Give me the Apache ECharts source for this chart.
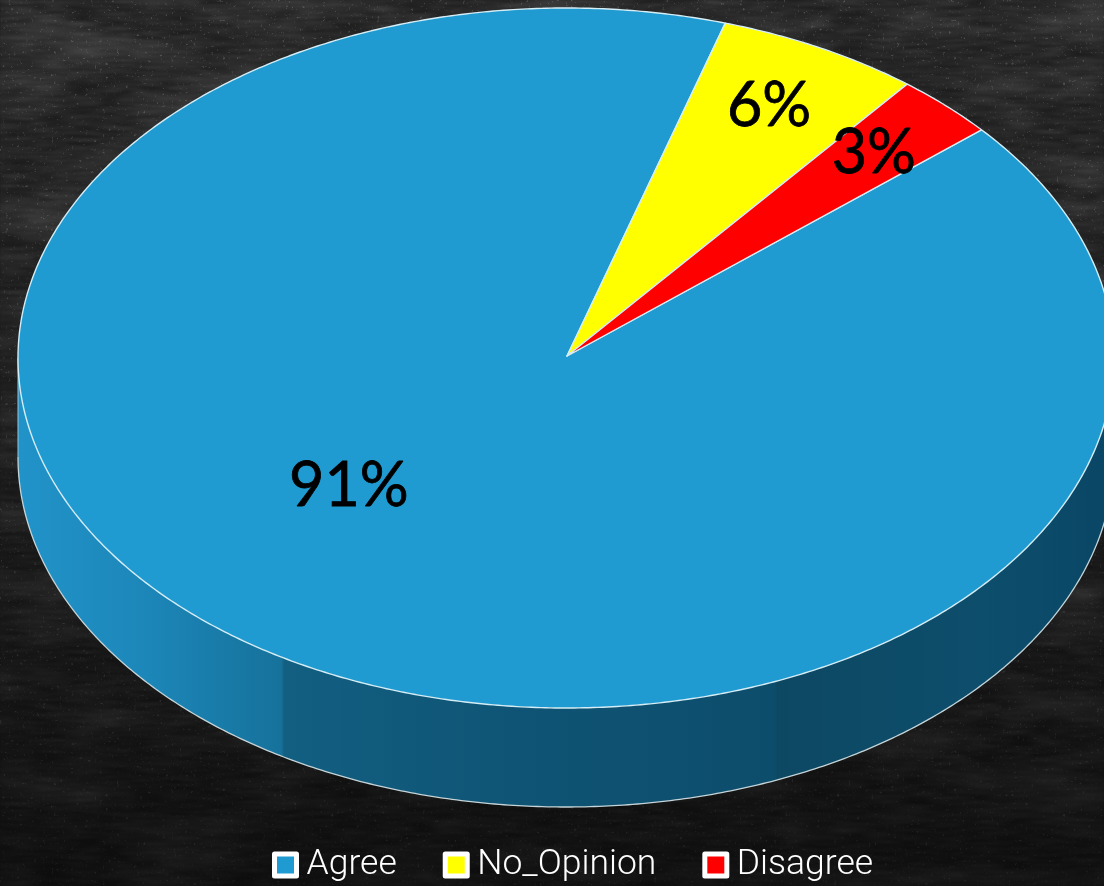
<!DOCTYPE html>
<html lang="en">
	<head>
		<meta charset="UTF-8">
		<title>Opinion pie</title>
		<style>
			html, body { margin: 0; padding: 0; width: 1104px; height: 886px; overflow: hidden; background: #161616; }
			#board { position: absolute; left: 0; top: 0; width: 1104px; height: 886px; }
			#main { position: absolute; left: 0; top: 0; width: 1104px; height: 886px; }
		</style>
	</head>

	<body>
		<!-- chalkboard background -->
		<svg id="board" xmlns="http://www.w3.org/2000/svg">
			<defs>
				<filter id="chalk" x="0" y="0" width="100%" height="100%">
					<feTurbulence type="fractalNoise" baseFrequency="0.03 0.5" numOctaves="2" seed="11"/>
					<feColorMatrix type="matrix" values="0 0 0 0 1  0 0 0 0 1  0 0 0 0 1  1.3 0 0 0 -0.48"/>
					<feGaussianBlur stdDeviation="0.8"/>
				</filter>
				<filter id="blotch" x="0" y="0" width="100%" height="100%">
					<feTurbulence type="fractalNoise" baseFrequency="0.008 0.03" numOctaves="3" seed="3"/>
					<feColorMatrix type="matrix" values="0 0 0 0 1  0 0 0 0 1  0 0 0 0 1  2 0 0 0 -0.85"/>
				</filter>
				<filter id="specks" x="0" y="0" width="100%" height="100%">
					<feTurbulence type="fractalNoise" baseFrequency="0.35" numOctaves="2" seed="4"/>
					<feColorMatrix type="matrix" values="0 0 0 0 1  0 0 0 0 1  0 0 0 0 1  6 0 0 0 -4.0"/>
				</filter>
				<linearGradient id="shade" x1="0" y1="0" x2="0" y2="1">
					<stop offset="0" stop-color="#000" stop-opacity="0"/>
					<stop offset="0.4" stop-color="#000" stop-opacity="0.2"/>
					<stop offset="1" stop-color="#000" stop-opacity="0.6"/>
				</linearGradient>
			</defs>
			<rect width="1104" height="886" fill="#1f1f1f"/>
			<rect width="1104" height="886" filter="url(#chalk)" opacity="0.2"/>
			<rect width="1104" height="886" filter="url(#blotch)" opacity="0.12"/>
			<rect width="1104" height="886" filter="url(#specks)" opacity="0.18"/>
			<rect width="1104" height="886" fill="url(#shade)"/>
		</svg>

		<div id="main"></div>

		<script type="text/javascript" src="https://cdn.jsdelivr.net/npm/echarts/dist/echarts.min.js"></script>
		<script type="text/javascript">
			// chart data
			var categories = ['Agree', 'No_Opinion', 'Disagree'];
			var values = [91, 6, 3];
			var sliceColors = ['#1f9bd1', '#ffff00', '#ff0000'];

			// ellipse of the pie top, and how thick the disc is
			var CX = 566, CY = 358, RX = 548, RY = 350, DEPTH = 99;
			// the slices meet here, a little off the ellipse centre
			var APEX = [567, 356];
			// first slice starts here, degrees clockwise from 12 o'clock
			var START_ANGLE = 49.3;
			// label placement per slice: share of the radius, shift from the slice middle in degrees
			var labelRadius = [0.54, 0.808, 0.81];
			var labelShift = [14.1, -0.4, 0];

			var myChart = echarts.init(document.getElementById('main'), null, {renderer: 'canvas'});

			var total = values.reduce(function (a, b) { return a + b; }, 0);

			function point(deg, dy) {
				var r = deg * Math.PI / 180;
				return [CX + RX * Math.sin(r), CY - RY * Math.cos(r) + (dy || 0)];
			}

			function arc(from, to, dy) {
				var pts = [];
				var n = Math.ceil(Math.abs(to - from) * 2);
				for (var i = 0; i <= n; i++) {
					pts.push(point(from + (to - from) * i / n, dy));
				}
				return pts;
			}

			function sliceStart(index) {
				var sum = 0;
				for (var i = 0; i < index; i++) sum += values[i];
				return START_ANGLE + sum / total * 360;
			}

			function makeSeries(index) {
				return {
					name: categories[index],
					type: 'custom',
					coordinateSystem: 'none',
					silent: true,
					animation: false,
					itemStyle: {color: sliceColors[index]},
					data: [[values[index]]],
					renderItem: function (params, api) {
						var value = api.value(0);
						var a0 = sliceStart(index);
						var a1 = a0 + value / total * 360;
						var children = [];

						// wall of the disc, only the part facing us (90..270 degrees)
						var sideFrom = Math.max(a0, 90), sideTo = Math.min(a1, 270);
						if (sideTo > sideFrom) {
							var upper = arc(sideFrom, sideTo, 0);
							var lower = arc(sideTo, sideFrom, DEPTH);
							children.push({
								type: 'polygon',
								shape: {points: upper.concat(lower)},
								style: {
									fill: new echarts.graphic.LinearGradient(0, 0, 1, 0, [
										{offset: 0, color: '#2193c9'},
										{offset: 0.12, color: '#1c86b8'},
										{offset: 0.24, color: '#16729b'},
										{offset: 0.243, color: '#125f82'},
										{offset: 0.45, color: '#0f5475'},
										{offset: 0.69, color: '#0d4d6c'},
										{offset: 0.693, color: '#0d4863'},
										{offset: 0.88, color: '#0d4e6c'},
										{offset: 1, color: '#0a4666'}
									])
								}
							});
							children.push({
								type: 'polyline',
								shape: {points: arc(sideFrom, sideTo, DEPTH)},
								style: {fill: null, stroke: '#c4d4d8', lineWidth: 1.3}
							});
							children.push({
								type: 'line',
								shape: {x1: CX - RX, y1: CY, x2: CX - RX, y2: CY + DEPTH},
								style: {stroke: '#9cc4d6', lineWidth: 1}
							});
						}

						// top face
						children.push({
							type: 'polygon',
							shape: {points: [APEX].concat(arc(a0, a1, 0))},
							style: {fill: sliceColors[index], stroke: '#d5edf5', lineWidth: 1.4, lineJoin: 'round'}
						});

						// percent label
						var mid = (a0 + a1) / 2 + labelShift[index];
						var rad = mid * Math.PI / 180;
						children.push({
							type: 'text',
							z2: 10,
							style: {
								text: value + '%',
								x: CX + RX * labelRadius[index] * Math.sin(rad),
								y: CY - RY * labelRadius[index] * Math.cos(rad),
								fill: '#000',
								stroke: '#000',
								lineWidth: 0.8,
								font: '61px Lato',
								align: 'center',
								verticalAlign: 'middle'
							}
						});

						return {type: 'group', children: children};
					}
				};
			}

			var option = {
				backgroundColor: 'transparent',
				legend: {
					data: categories,
					left: 272,
					top: 846,
					padding: 0,
					icon: 'rect',
					itemWidth: 22,
					itemHeight: 22,
					itemGap: 46,
					selectedMode: false,
					itemStyle: {borderColor: '#fff', borderWidth: 5, borderJoin: 'round'},
					textStyle: {
						color: '#fff',
						fontFamily: 'Roboto',
						fontWeight: 300,
						fontSize: 35.5,
						lineHeight: 38,
						padding: [0, 0, 0, 5]
					}
				},
				series: categories.map(function (c, i) { return makeSeries(i); })
			};

			myChart.setOption(option);
		</script>
	</body>
</html>
